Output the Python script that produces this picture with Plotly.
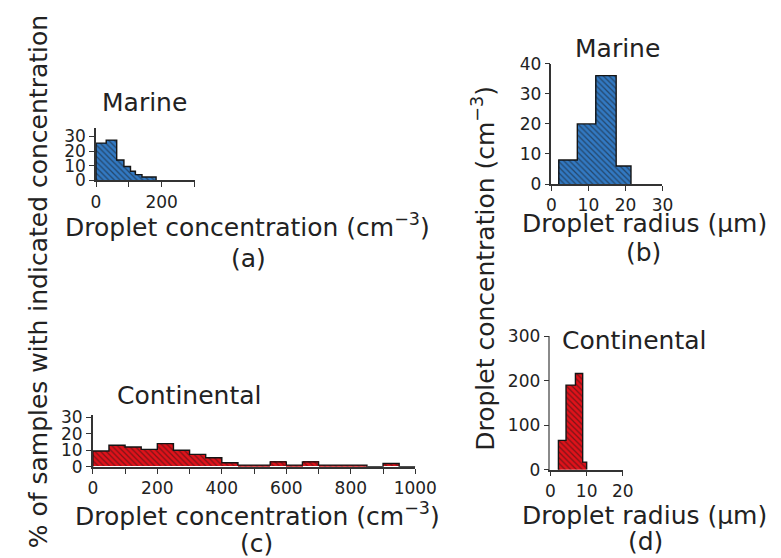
import plotly.graph_objects as go

# ---------------- data ----------------
# (a) Marine: % of samples vs droplet concentration (cm^-3)
a_edges = [0, 31, 63, 85, 105, 120, 140, 183]
a_pct = [25.5, 27.5, 14, 9.5, 6.3, 4.0, 2.4]

# (b) Marine: droplet concentration (cm^-3) vs droplet radius (um)
b_edges = [2, 7, 12, 17.5, 21.5]
b_conc = [8, 20, 36, 6]

# (c) Continental: % of samples vs droplet concentration (bins of 50 cm^-3)
c_edges = list(range(0, 1001, 50))
c_pct = [9.5, 13, 12, 10.5, 14, 10, 7.5, 5.5, 2.5, 1,
         1, 3, 1, 3, 1, 1, 1, 0, 2, 0]

# (d) Continental: droplet concentration (cm^-3) vs droplet radius (um)
d_edges = [2.2, 4.3, 6.9, 8.9, 10.0]
d_conc = [66, 190, 216, 17]

a_xticks = [0, 200]
a_xminor = [100, 300]
c_xticks = [0, 200, 400, 600, 800, 1000]
c_xminor = [100, 300, 500, 700, 900]
b_xticks = [0, 10, 20, 30]
d_xticks = [0, 10, 20]
pct_yticks = [0, 10, 20, 30]
b_yticks = [0, 10, 20, 30, 40]
d_yticks = [0, 100, 200, 300]

# ---------------- figure ----------------
W, H = 781, 558
BLUE = "#3279c2"
RED = "#e0121a"
FONT = "DejaVu Sans"
TXT = "#222222"
INK = "#151515"


def px(x):
    return x / W


def py(y):
    return 1 - y / H


def hist(fig, edges, vals, color, xa, ya):
    centers = [(edges[i] + edges[i + 1]) / 2 for i in range(len(vals))]
    widths = [edges[i + 1] - edges[i] for i in range(len(vals))]
    fig.add_trace(go.Bar(
        x=centers, y=vals, width=widths, xaxis=xa, yaxis=ya,
        marker=dict(
            color=color,
            line=dict(width=0),
            pattern=dict(shape="\\", fgcolor=INK, bgcolor=color,
                         size=4, solidity=0.32),
        ),
        showlegend=False, hoverinfo="skip",
    ))
    # outer step outline of the histogram
    fig.add_trace(go.Scatter(
        x=[edges[0]] + list(edges), y=[0] + list(vals) + [0],
        xaxis=xa, yaxis=ya, mode="lines",
        line=dict(shape="hv", color=INK, width=1.4),
        showlegend=False, hoverinfo="skip", cliponaxis=False,
    ))


fig = go.Figure()
hist(fig, a_edges, a_pct, BLUE, "x", "y")
hist(fig, b_edges, b_conc, BLUE, "x2", "y2")
hist(fig, c_edges, c_pct, RED, "x3", "y3")
hist(fig, d_edges, d_conc, RED, "x4", "y4")

axcommon = dict(showgrid=False, zeroline=False, showline=True,
                linecolor="#333333", linewidth=1.5, ticks="outside",
                ticklen=5, tickwidth=1.3, tickcolor="#333333",
                tickfont=dict(family=FONT, size=17, color=TXT),
                tickmode="array", fixedrange=True)
minor_style = dict(ticks="outside", ticklen=5, tickwidth=1.3,
                   tickcolor="#333333", showgrid=False)

fig.update_layout(
    width=W, height=H,
    margin=dict(l=0, r=0, t=0, b=0),
    paper_bgcolor="white", plot_bgcolor="white",
    bargap=0,
    xaxis=dict(axcommon, domain=[px(86), px(188)], range=[0, 300],
               tickvals=a_xticks, anchor="y",
               minor=dict(minor_style, tickvals=a_xminor)),
    yaxis=dict(axcommon, domain=[py(168.5), py(113.8)], range=[0, 36],
               tickvals=pct_yticks, anchor="x"),
    xaxis2=dict(axcommon, domain=[px(557.7), px(672.7)], range=[0, 30],
                tickvals=b_xticks, anchor="y2"),
    yaxis2=dict(axcommon, domain=[py(172.3), py(47.3)], range=[0, 40],
                tickvals=b_yticks, anchor="x2"),
    xaxis3=dict(axcommon, domain=[px(82.7), px(416.7)], range=[0, 1000],
                tickvals=c_xticks, anchor="y3",
                minor=dict(minor_style, tickvals=c_xminor)),
    yaxis3=dict(axcommon, domain=[py(465.5), py(412.2)], range=[0, 31],
                tickvals=pct_yticks, anchor="x3"),
    xaxis4=dict(axcommon, domain=[px(556.7), px(631.7)], range=[0, 20],
                tickvals=d_xticks, anchor="y4"),
    yaxis4=dict(axcommon, domain=[py(468.5), py(330)], range=[0, 300],
                tickvals=d_yticks, anchor="x4", linecolor="#8a8a8a"),
)

CONC = "Droplet concentration (cm<sup>−3</sup>)"
RAD = "Droplet radius (μm)"
labels = [
    ("Marine", 136, 88, 0),
    (CONC, 243, 215, 0),
    ("(a)", 244, 249, 0),
    ("Marine", 626, 32, 0),
    (RAD, 654, 213, 0),
    ("(b)", 653, 243, 0),
    ("Continental", 182, 392, 0),
    (CONC, 253, 515, 0),
    ("(c)", 252, 545, 0),
    ("Continental", 643, 334, 0),
    (RAD, 654, 516, 0),
    ("(d)", 655, 543, 0),
    ("% of samples with indicated concentration", 26, 274, -90),
    (CONC, 488, 260, -90),
]
for text, x, y, ang in labels:
    fig.add_annotation(
        text=text, x=px(x), y=py(y), xref="paper", yref="paper",
        xanchor="center", yanchor="middle", showarrow=False,
        textangle=ang, font=dict(family=FONT, size=25, color=TXT),
    )

fig.write_html("out.html")
